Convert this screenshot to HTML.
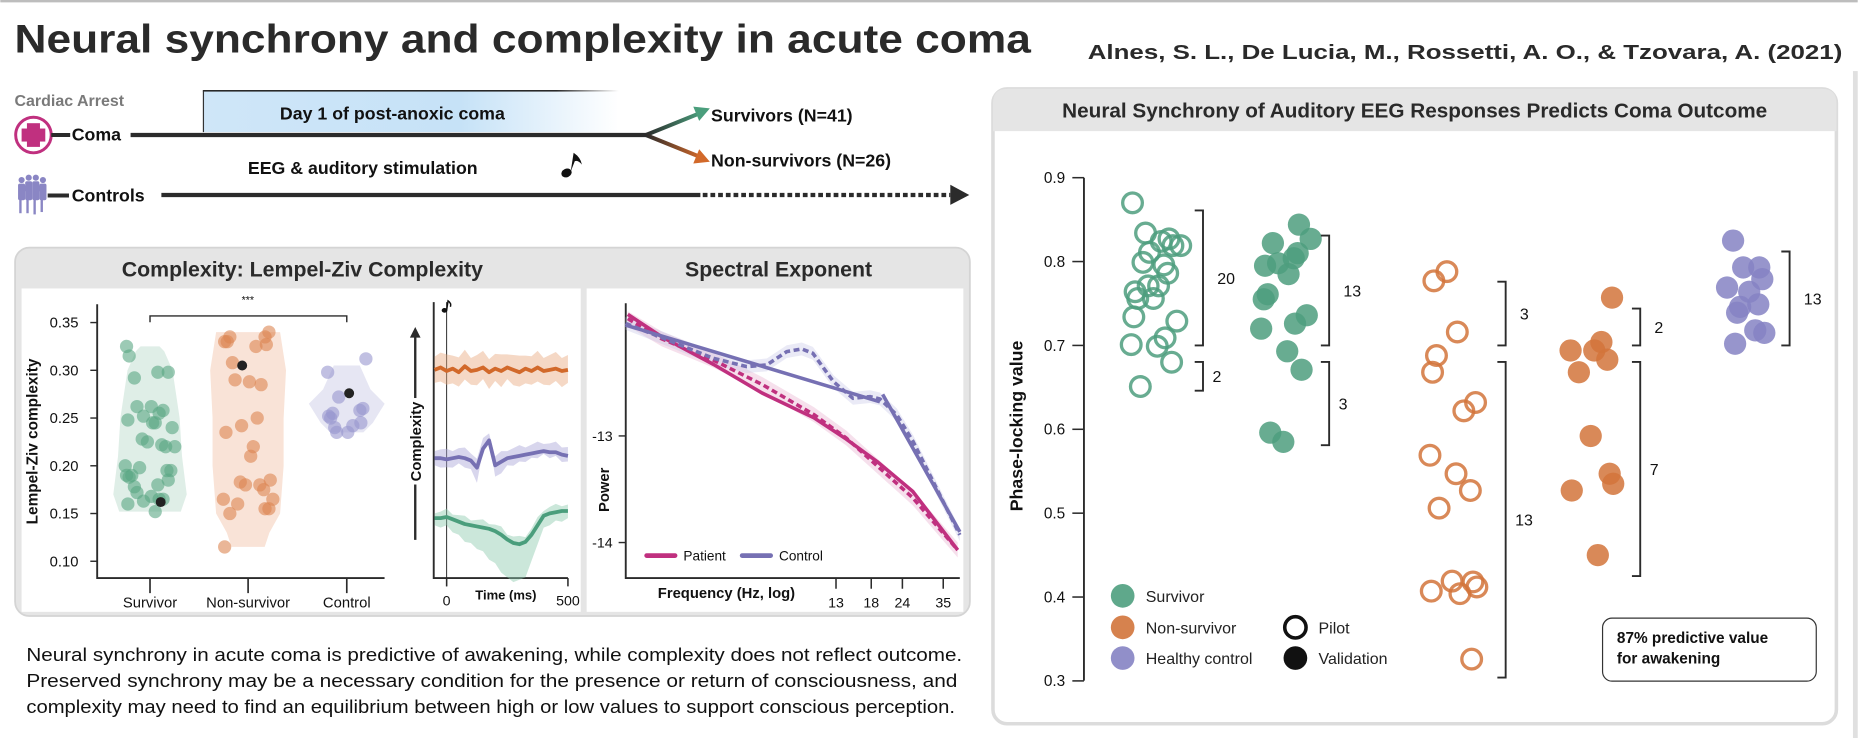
<!DOCTYPE html>
<html><head><meta charset="utf-8">
<style>
html,body{margin:0;padding:0;background:#fff;}
svg{display:block;font-family:"Liberation Sans",Arial,sans-serif;}
</style></head>
<body>
<svg id="fig" width="1858" height="738" viewBox="0 0 1568 623" xmlns="http://www.w3.org/2000/svg">
<defs>
  <linearGradient id="dayGrad" x1="0" x2="1" y1="0" y2="0">
    <stop offset="0" stop-color="#cfe6f8"/><stop offset="0.62" stop-color="#c6e2f7"/><stop offset="1" stop-color="#ffffff"/>
  </linearGradient>
  <linearGradient id="topEdge" x1="0" x2="1"><stop offset="0.85" stop-color="#222"/><stop offset="1" stop-color="#fff"/></linearGradient>
  <linearGradient id="gArrow" x1="0" x2="1"><stop offset="0" stop-color="#2b2b2b"/><stop offset="1" stop-color="#4a9e7c"/></linearGradient>
  <linearGradient id="oArrow" x1="0" x2="1"><stop offset="0" stop-color="#2b2b2b"/><stop offset="1" stop-color="#d2692a"/></linearGradient>
  <linearGradient id="thrGrad" x1="0" x2="1"><stop offset="0" stop-color="#fff"/><stop offset="0.04" stop-color="#2b2b2b"/><stop offset="1" stop-color="#2b2b2b"/></linearGradient>
</defs>

<rect x="0" y="0" width="1568" height="2" fill="#bdbdbd"/>
<text x="12" y="44.5" font-size="34" font-weight="bold" fill="#2a2a2a" textLength="858" lengthAdjust="spacingAndGlyphs">Neural synchrony and complexity in acute coma</text>
<text x="918" y="50" font-size="17.5" font-weight="bold" fill="#2a2a2a" textLength="637" lengthAdjust="spacingAndGlyphs">Alnes, S. L., De Lucia, M., Rossetti, A. O., &amp; Tzovara, A. (2021)</text>

<!-- Timeline -->
<g>
  <text x="12" y="89.5" font-size="13.5" font-weight="bold" fill="#7a7a7a">Cardiac Arrest</text>
  <rect x="171" y="76.5" width="351" height="35" fill="url(#dayGrad)"/>
  <rect x="171" y="76" width="351" height="1.3" fill="url(#topEdge)"/>
  <rect x="171" y="76.5" width="1" height="35" fill="#333"/>
  <text x="331" y="100.7" font-size="15" font-weight="bold" fill="#111" text-anchor="middle">Day 1 of post-anoxic coma</text>
  <g>
    <circle cx="28" cy="114" r="15" fill="#fff" stroke="#c0307f" stroke-width="2.5"/>
    <rect x="22.5" y="104" width="11" height="20" fill="#c0307f"/>
    <rect x="18" y="108.5" width="20" height="11" fill="#c0307f"/>
  </g>
  <line x1="43" y1="114" x2="59" y2="114" stroke="#2b2b2b" stroke-width="3.4"/>
  <text x="60.3" y="118.7" font-size="15" font-weight="bold" fill="#111">Coma</text>
  <line x1="110" y1="114" x2="546" y2="114" stroke="#2b2b2b" stroke-width="3.6"/>
  <line x1="545" y1="114" x2="592" y2="95" stroke="url(#gArrow)" stroke-width="3.4"/>
  <polygon points="599,91.5 585,90 590,102" fill="#4a9e7c"/>
  <line x1="545" y1="114" x2="592" y2="133" stroke="url(#oArrow)" stroke-width="3.4"/>
  <polygon points="599,136.5 585,138 590,126" fill="#d2692a"/>
  <text x="600" y="102.7" font-size="15" font-weight="bold" fill="#111">Survivors (N=41)</text>
  <text x="600" y="140.6" font-size="15" font-weight="bold" fill="#111">Non-survivors (N=26)</text>
  <text x="209" y="146.8" font-size="15" font-weight="bold" fill="#111">EEG &amp; auditory stimulation</text>
  <g>
    <ellipse cx="478" cy="146" rx="4.5" ry="3.6" fill="#111" transform="rotate(-25 478 146)"/>
    <path d="M481.5,145 L484,129 Q490,133 491,139 Q488,135 485,136 Z" fill="#111"/>
  </g>
  <g fill="#8a86c4">
    <circle cx="18" cy="152" r="2.6"/><circle cx="24" cy="150" r="2.6"/><circle cx="30" cy="150" r="2.6"/><circle cx="36" cy="152" r="2.6"/>
    <rect x="15" y="155" width="6" height="14" rx="1.5"/><rect x="21" y="153" width="6" height="16" rx="1.5"/><rect x="27" y="153" width="6" height="16" rx="1.5"/><rect x="33" y="155" width="6" height="14" rx="1.5"/>
    <rect x="16" y="168" width="2" height="12"/><rect x="22" y="168" width="2" height="12"/><rect x="28" y="168" width="2" height="13"/><rect x="34" y="168" width="2" height="11"/>
    <circle cx="21" cy="159" r="2.4"/><circle cx="33" cy="159" r="2.4"/>
  </g>
  <line x1="40" y1="165" x2="58" y2="165" stroke="#2b2b2b" stroke-width="3.4"/>
  <text x="60.3" y="170.2" font-size="15" font-weight="bold" fill="#111">Controls</text>
  <line x1="136" y1="164.6" x2="591" y2="164.6" stroke="#2b2b2b" stroke-width="3.6"/>
  <line x1="593" y1="164.6" x2="802" y2="164.6" stroke="#2b2b2b" stroke-width="3.6" stroke-dasharray="4,2.5"/>
  <polygon points="818,164.6 802,156 802,173" fill="#2b2b2b"/>
</g>

<!-- Left panel -->
<g>
  <rect x="12.5" y="209" width="806" height="311" rx="12" fill="#e5e5e5" stroke="#d4d4d4" stroke-width="1.5"/>
  <rect x="18" y="243.5" width="472" height="273" fill="#fff"/>
  <rect x="495" y="243.5" width="318" height="273" fill="#fff"/>
  <text x="255" y="233.5" font-size="18" font-weight="bold" fill="#2a2a2a" text-anchor="middle">Complexity: Lempel-Ziv Complexity</text>
  <text x="657" y="233.5" font-size="18" font-weight="bold" fill="#2a2a2a" text-anchor="middle">Spectral Exponent</text>
</g>
<g id="violin"></g>
<g id="eeg"></g>
<g id="spec"></g>

<!-- Right panel -->
<g>
  <rect x="838" y="75" width="712" height="536" rx="12" fill="#fff" stroke="#dcdcdc" stroke-width="3"/>
  <path d="M838,110.7 L838,87 Q838,75 850,75 L1538,75 Q1550,75 1550,87 L1550,110.7 Z" fill="#e5e5e5"/>
  <text x="1194" y="99.4" font-size="17.5" font-weight="bold" fill="#2a2a2a" text-anchor="middle">Neural Synchrony of Auditory EEG Responses Predicts Coma Outcome</text>
  <rect x="1564" y="60" width="4" height="563" fill="#e0e0e0"/>
</g>
<g id="plv"></g>

<g>
  <rect x="1352.6" y="521.8" width="180.4" height="53.2" rx="8" fill="#fff" stroke="#333" stroke-width="1"/>
  <text x="1364.7" y="543" font-size="13" font-weight="bold" fill="#111">87% predictive value</text>
  <text x="1364.7" y="560" font-size="13" font-weight="bold" fill="#111">for awakening</text>
</g>

<g font-size="15.5" fill="#111">
  <text x="22" y="558" textLength="790" lengthAdjust="spacingAndGlyphs">Neural synchrony in acute coma is predictive of awakening, while complexity does not reflect outcome.</text>
  <text x="22" y="580" textLength="786" lengthAdjust="spacingAndGlyphs">Preserved synchrony may be a necessary condition for the presence or return of consciousness, and</text>
  <text x="22" y="602" textLength="784" lengthAdjust="spacingAndGlyphs">complexity may need to find an equilibrium between high or low values to support conscious perception.</text>
</g>
</svg>

<script>
// ===== Violin (Lempel-Ziv) data =====
const lzCategories = ["Survivor", "Non-survivor", "Control"];
const lzTicks = [0.10, 0.15, 0.20, 0.25, 0.30, 0.35];
const lzSurvivor = [0.325,0.315,0.298,0.298,0.292,0.262,0.262,0.258,0.255,0.252,0.248,0.245,0.245,0.24,0.228,0.225,0.222,0.22,0.22,0.2,0.198,0.195,0.195,0.19,0.19,0.188,0.185,0.18,0.178,0.172,0.168,0.165,0.165,0.163,0.16,0.152];
const lzNonSurvivor = [0.34,0.335,0.335,0.33,0.33,0.327,0.325,0.308,0.29,0.288,0.285,0.25,0.242,0.235,0.22,0.21,0.185,0.183,0.18,0.18,0.175,0.165,0.165,0.16,0.155,0.155,0.15,0.115];
const lzControl = [0.312,0.298,0.272,0.26,0.258,0.255,0.252,0.25,0.245,0.242,0.24,0.235,0.235];
const lzHighlight = [0.162, 0.305, 0.276];
const densLevels = [[0.152,0.17,0.21,0.25,0.30,0.32,0.325],[0.115,0.13,0.15,0.20,0.25,0.30,0.34],[0.235,0.245,0.265,0.28,0.305]];
const densWidths = [[26,31,27,25,19,12,8],[14,18,27,30,30,32,27],[14,22,32,20,11]];

// ===== ERP traces data (ms, amplitude) =====
const erpTimes = [-50,-25,0,25,50,75,100,125,150,175,200,225,250,275,300,325,350,375,400,425,450,475,500];
const erpNonSurvivor = [0,-2,1,-1,2,-3,1,0,-2,2,-1,1,-2,0,2,-1,1,-2,1,0,-1,1,0];
const erpControl = [0,0,1,0,-1,0,2,8,-8,-15,6,3,0,-1,-2,-3,-4,-5,-6,-5,-5,-3,-2];
const erpSurvivor = [0,0,-1,1,3,5,6,7,8,9,11,14,18,21,22,20,14,6,-2,-4,-5,-6,-6];
const erpSurvivorLow = [2,2,2,6,10,14,17,20,24,29,34,40,46,48,48,44,32,16,4,0,-2,-3,-4];

// ===== Spectral data =====
const specTicks = [13, 18, 24, 35];
const powTicks = [-13, -14];
const patientFreq = [1.9,2.6,4.2,6.6,10.6,14.3,19,26.4,40];
const patientFit = [-11.86,-12.07,-12.33,-12.60,-12.83,-13.03,-13.24,-13.52,-14.07];
const patientPSD = [-11.9,-12.09,-12.29,-12.52,-12.80,-13.02,-13.28,-13.58,-14.07];
const controlFreq = [1.86,2.64,4.19,5.7,6.86,8.25,9.47,10.5,12.7,15.2,17.8,19.5,22.8,26.5,40.8];
const controlPSD = [-11.944,-12.084,-12.272,-12.35,-12.334,-12.209,-12.184,-12.225,-12.491,-12.647,-12.631,-12.653,-12.803,-13.053,-13.928];
const controlFitLowF = [1.86,19.5];
const controlFitLow = [-11.96,-12.68];
const controlFitHighF = [20,40.8];
const controlFitHigh = [-12.61,-13.9];

// ===== Phase-locking data =====
const plvTicks = [0.3,0.4,0.5,0.6,0.7,0.8,0.9];
const plvThreshold = 0.693;
const plvSurvPilot = [0.870,0.824,0.819,0.811,0.834,0.827,0.819,0.799,0.786,0.796,0.771,0.764,0.771,0.756,0.734,0.729,0.709,0.701,0.699,0.680,0.651,0.756];
const plvSurvValid = [0.844,0.827,0.822,0.810,0.804,0.798,0.795,0.785,0.761,0.755,0.736,0.726,0.720,0.693,0.671,0.596,0.585];
const plvNonPilot = [0.788,0.777,0.716,0.688,0.668,0.632,0.622,0.569,0.547,0.527,0.506,0.419,0.418,0.412,0.407,0.404,0.326];
const plvNonValid = [0.757,0.704,0.694,0.694,0.683,0.668,0.592,0.547,0.535,0.527,0.450];
const plvControl = [0.825,0.793,0.793,0.779,0.769,0.764,0.749,0.746,0.739,0.718,0.715,0.702];
const bracketCounts = [["20","2"],["13","3"],["3","13"],["2","7"],["13",null]];

const NS = "http://www.w3.org/2000/svg";
function mk(parent, tag, attrs, text){
  const e = document.createElementNS(NS, tag);
  for (const k in attrs) e.setAttribute(k, attrs[k]);
  if (text !== undefined) e.textContent = text;
  parent.appendChild(e);
  return e;
}
const jit = [-0.9,0.5,-0.3,0.8,-0.6,0.2,0.95,-0.8,0.35,-0.1,0.65,-0.5,0.1,-0.95,0.7,-0.25,0.45,-0.7,0.05,0.85,-0.4,0.3,-0.85,0.6];

// ---------- Violin ----------
(function(){
  const g = document.getElementById('violin');
  const yV = v => 272.3 + (0.35 - v) / 0.05 * 40.3;
  const xC = [126.4, 209.2, 292.5];
  const fills = ["#dfeee7","#f9e3d7","#e6e6f3"];
  const dotCols = ["#5aa784","#dc8552","#9896cf"];
  const groups = [lzSurvivor, lzNonSurvivor, lzControl];
  const ax = mk(g,'path',{d:'M81.8,256.8 L81.8,488 L324.4,488',fill:'none',stroke:'#2b2b2b','stroke-width':1.6});
   
  lzTicks.forEach(t=>{
    const y=yV(t);
    mk(g,'line',{x1:76,x2:81.8,y1:y,y2:y,stroke:'#2b2b2b','stroke-width':1.2});
    const tl = mk(g,'text',{x:66,y:y+4.3,'font-size':12.5,'text-anchor':'end',fill:'#111'},t.toFixed(2));
     
  });
  const yl = mk(g,'text',{x:0,y:0,'font-size':13,'font-weight':'bold','text-anchor':'middle',fill:'#111',transform:'translate(31.5,372.7) rotate(-90)'},'Lempel-Ziv complexity');
   
  lzCategories.forEach((c,i)=>{
    mk(g,'line',{x1:xC[i],x2:xC[i],y1:488,y2:500.7,stroke:'#2b2b2b','stroke-width':1.4});
    const t = mk(g,'text',{x:xC[i],y:513,'font-size':12.5,'text-anchor':'middle',fill:'#111'},c);
     
  });
  groups.forEach((arr,i)=>{
    const lv = densLevels[i], wd = densWidths[i];
    let right = lv.map((v,k)=>`${xC[i]+wd[k]},${yV(v)}`);
    let left = lv.map((v,k)=>`${xC[i]-wd[k]},${yV(v)}`).reverse();
    const p = mk(g,'polygon',{points:right.concat(left).join(' '),fill:fills[i],'stroke-linejoin':'round'});
    
    
  });
  groups.forEach((arr,i)=>{
    arr.forEach((v,k)=>{
      const spread = i===2 ? 17 : 22;
      const c = mk(g,'circle',{cx:xC[i]+jit[(k*7+i*3)%jit.length]*spread,cy:yV(v),r:5.6,fill:dotCols[i],'fill-opacity':0.6});
      
      
    });
    const h = mk(g,'circle',{cx:xC[i]+(i===0?9:i===1?-5:2),cy:yV(lzHighlight[i]),r:4.2,fill:'#222'});
    
    
  });
  const br = mk(g,'path',{d:`M${xC[0]},272 L${xC[0]},266.7 L${xC[2]},266.7 L${xC[2]},272`,fill:'none',stroke:'#2b2b2b','stroke-width':1.2});
   
  const st = mk(g,'text',{x:209,y:256,'font-size':9,'text-anchor':'middle',fill:'#111'},'***');
   
})();

// ---------- ERP traces ----------
(function(){
  const g = document.getElementById('eeg');
  const xE = t => 376.8 + t * 0.2048;
  const ax = mk(g,'path',{d:'M365.9,255 L365.9,488 L479.2,488',fill:'none',stroke:'#2b2b2b','stroke-width':1.6});
   
  mk(g,'line',{x1:xE(0),x2:xE(0),y1:255,y2:495,stroke:'#222','stroke-width':0.8});
  [0,500].forEach(t=>{
    mk(g,'line',{x1:xE(t),x2:xE(t),y1:488,y2:495,stroke:'#2b2b2b','stroke-width':1.3});
    const tl = mk(g,'text',{x:xE(t),y:511,'font-size':12,'text-anchor':'middle',fill:'#111'},String(t));
     
  });
  const xt = mk(g,'text',{x:426.8,y:506,'font-size':11,'font-weight':'bold','text-anchor':'middle',fill:'#111'},'Time (ms)');
   
  mk(g,'ellipse',{cx:375,cy:262,rx:2.4,ry:2,fill:'#111'});
  mk(g,'path',{d:'M376.8,262 L378,254 Q381,256 380,259',fill:'none',stroke:'#111','stroke-width':1.2});
  // complexity arrow
  const ca = mk(g,'line',{x1:350.3,x2:350.3,y1:455.7,y2:283,stroke:'#2b2b2b','stroke-width':2});
   
  mk(g,'polygon',{points:'350.3,276 345.8,285 354.8,285',fill:'#2b2b2b'});
  mk(g,'rect',{x:343,y:336,width:14,height:73,fill:'#fff'});
  const cl = mk(g,'text',{x:0,y:0,'font-size':12.5,'font-weight':'bold','text-anchor':'middle',fill:'#111',transform:'translate(355,372.7) rotate(-90)'},'Complexity');
   
  const series = [[erpNonSurvivor,312.2,'#d2692a','#e9a97e',11],[erpControl,386.8,'#7670b3','#a9a5d6',6],[erpSurvivor,437.4,'#4a9e7c','#8cc9ad',4]];
  series.forEach(([arr,base,col,light,band],si)=>{
    // band of single-trial spread
    let up = arr.map((v,k)=>`${xE(erpTimes[k])},${base+v-band-(k%3)*1.5}`);
    let lowVals = si===2 ? erpSurvivorLow : arr.map(v=>v*1.6);
    let lo = lowVals.map((v,k)=>`${xE(erpTimes[k])},${base+v+band+(k%2)*2}`).reverse();
    const b = mk(g,'polygon',{points:up.concat(lo).join(' '),fill:light,'fill-opacity':0.45});
    
    
    const pts = arr.map((v,k)=>`${xE(erpTimes[k])},${base+v}`).join(' ');
    const l = mk(g,'polyline',{points:pts,fill:'none',stroke:col,'stroke-width':3.2,'stroke-linejoin':'round'});
    
    
  });
})();

// ---------- Spectral ----------
(function(){
  const g = document.getElementById('spec');
  const xS = f => 705.5 + 91.4 * Math.log(f / 13);
  const yS = p => 368 + (-13 - p) * 90;
  const ax = mk(g,'path',{d:'M528,256 L528,488 L810,488',fill:'none',stroke:'#2b2b2b','stroke-width':1.6});
   
  powTicks.forEach(p=>{
    mk(g,'line',{x1:522,x2:528,y1:yS(p),y2:yS(p),stroke:'#2b2b2b','stroke-width':1.2});
    const t = mk(g,'text',{x:517,y:yS(p)+4.3,'font-size':12,'text-anchor':'end',fill:'#111'},String(p));
     
  });
  specTicks.forEach(f=>{
    mk(g,'line',{x1:xS(f),x2:xS(f),y1:488,y2:497,stroke:'#2b2b2b','stroke-width':1.3});
    const t = mk(g,'text',{x:xS(f),y:513,'font-size':12,'text-anchor':'middle',fill:'#111'},String(f));
     
  });
  const xt = mk(g,'text',{x:613,y:505,'font-size':12.5,'font-weight':'bold','text-anchor':'middle',fill:'#111'},'Frequency (Hz, log)');
   
  const yt = mk(g,'text',{x:0,y:0,'font-size':12.5,'font-weight':'bold','text-anchor':'middle',fill:'#111',transform:'translate(514,413.5) rotate(-90)'},'Power');
   
  function band(fr, vals, w, col){
    const up = fr.map((f,k)=>`${xS(f)},${yS(vals[k]+w)}`);
    const lo = fr.map((f,k)=>`${xS(f)},${yS(vals[k]-w)}`).reverse();
    const b = mk(g,'polygon',{points:up.concat(lo).join(' '),fill:col,'fill-opacity':0.35});
    
    
  }
  band(patientFreq, patientPSD, 0.07, '#e6a6c8');
  band(controlFreq, controlPSD, 0.06, '#c4c2e4');
  function line(fr, vals, col, dash, name){
    const pts = fr.map((f,k)=>`${xS(f)},${yS(vals[k])}`).join(' ');
    const attrs = {points:pts,fill:'none',stroke:col,'stroke-width':3,'stroke-linejoin':'round'};
    if (dash) attrs['stroke-dasharray'] = '5,3';
    const l = mk(g,'polyline',attrs);
    
    
  }
  line(patientFreq, patientFit, '#c0307f', false, 'patient-fit-line');
  line(patientFreq, patientPSD, '#c0307f', true, 'patient-psd-line');
  line(controlFitLowF, controlFitLow, '#7670b3', false, 'control-fit-low-line');
  line(controlFitHighF, controlFitHigh, '#7670b3', false, 'control-fit-high-line');
  line(controlFreq, controlPSD, '#7670b3', true, 'control-psd-line');
  // legend
  const l1 = mk(g,'line',{x1:545.7,x2:569.6,y1:469,y2:469,stroke:'#c0307f','stroke-width':4,'stroke-linecap':'round'});
   
  const t1 = mk(g,'text',{x:576.7,y:473,'font-size':11.5,fill:'#111'},'Patient');
   
  const l2 = mk(g,'line',{x1:626.3,x2:650.3,y1:469,y2:469,stroke:'#7670b3','stroke-width':4,'stroke-linecap':'round'});
   
  const t2 = mk(g,'text',{x:657.4,y:473,'font-size':11.5,fill:'#111'},'Control');
   
})();

// ---------- Phase-locking ----------
(function(){
  const g = document.getElementById('plv');
  const yR = v => 150 + (0.9 - v) / 0.1 * 70.8;
  const ax = mk(g,'line',{x1:914.8,x2:914.8,y1:150,y2:574.6,stroke:'#2b2b2b','stroke-width':1.6});
   
  plvTicks.forEach(t=>{
    mk(g,'line',{x1:905,x2:914.8,y1:yR(t),y2:yR(t),stroke:'#2b2b2b','stroke-width':1.3});
    const tl = mk(g,'text',{x:899,y:yR(t)+4.5,'font-size':13,'text-anchor':'end',fill:'#111'},t.toFixed(1));
     
  });
  const yl = mk(g,'text',{x:0,y:0,'font-size':15,'font-weight':'bold','text-anchor':'middle',fill:'#111',transform:'translate(863,359.6) rotate(-90)'},'Phase-locking value');
   
  const cols = {s:'#4e9e7e', n:'#d2743b', c:'#8583c3'};
  const groups = [[plvSurvPilot,975.6,cols.s,true,22],[plvSurvValid,1085.3,cols.s,false,22],[plvNonPilot,1227.8,cols.n,true,22],[plvNonValid,1344.6,cols.n,false,20],[plvControl,1473,cols.c,false,17]];
  groups.forEach(([arr,cx,col,open,spread],gi)=>{
    arr.forEach((v,k)=>{
      const attrs = open
        ? {cx:cx+jit[(k*5+gi)%jit.length]*spread,cy:yR(v),r:8.3,fill:'none',stroke:col,'stroke-width':2.8,'stroke-opacity':0.85}
        : {cx:cx+jit[(k*5+gi)%jit.length]*spread,cy:yR(v),r:9.4,fill:col,'fill-opacity':0.85};
      const c = mk(g,'circle',attrs);
      
      
    });
  });
  const th = mk(g,'line',{x1:931,x2:1550,y1:yR(plvThreshold),y2:yR(plvThreshold),stroke:'url(#thrGrad)','stroke-width':3});
   
  // brackets
  const bx = [1015.3,1121.8,1270.8,1384.4,1510.5];
  const bTop = [0.861,0.831,0.776,0.744,0.812];
  const bBot = [0.646,0.581,0.304,0.425,null];
  const yUp = 291.6, yLo = 305.5;
  bx.forEach((x,i)=>{
    const tY = yR(bTop[i]);
    const p1 = mk(g,'path',{d:`M${x-7},${tY} L${x},${tY} L${x},${yUp} L${x-7},${yUp}`,fill:'none',stroke:'#2b2b2b','stroke-width':1.6});
    
    
    const t1 = mk(g,'text',{x:x+12,y:(tY+yUp)/2+5,'font-size':13.5,fill:'#111'},bracketCounts[i][0]);
    
    
    if (bBot[i] !== null){
      const bY = yR(bBot[i]);
      const p2 = mk(g,'path',{d:`M${x-7},${yLo} L${x},${yLo} L${x},${bY} L${x-7},${bY}`,fill:'none',stroke:'#2b2b2b','stroke-width':1.6});
      
      
      const t2 = mk(g,'text',{x:x+8,y:(yLo+bY)/2+5,'font-size':13.5,fill:'#111'},bracketCounts[i][1]);
      
      
    }
  });
  // legend
  const leg = [[947.5,503,'#4e9e7e','Survivor',false],[947.5,529.6,'#d2743b','Non-survivor',false],[947.5,555.5,'#8583c3','Healthy control',false],[1093.3,529.6,'#111','Pilot',true],[1093.3,555.5,'#111','Validation',false]];
  leg.forEach(([x,y,col,lab,open])=>{
    const c = mk(g,'circle', open ? {cx:x,cy:y,r:9,fill:'none',stroke:col,'stroke-width':3} : {cx:x,cy:y,r:10,fill:col,'fill-opacity':col==='#111'?1:0.9});
    
    
    const t = mk(g,'text',{x:x+19.5,y:y+5,'font-size':13.5,fill:'#222'},lab);
    
    
  });
})();
</script>
</body></html>
